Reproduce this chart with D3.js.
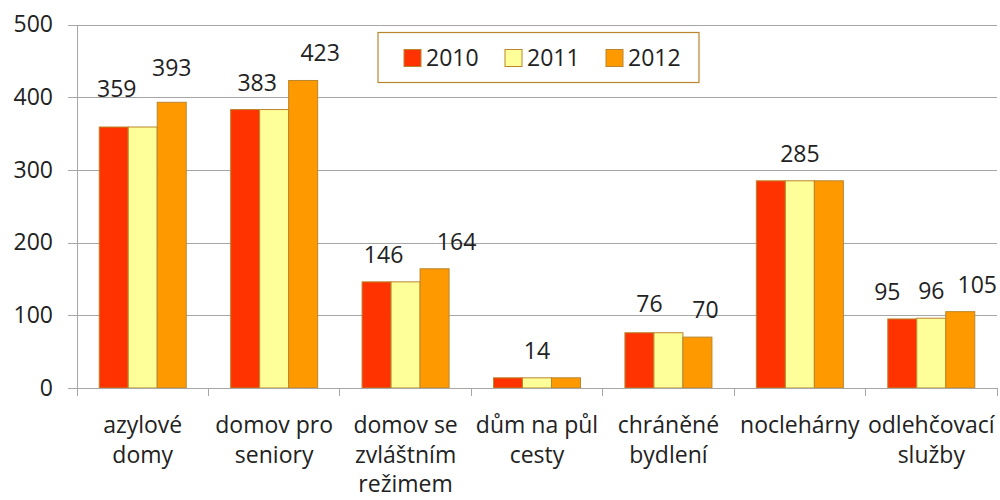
<!DOCTYPE html>
<html>
<head>
<meta charset="utf-8">
<script src="https://cdn.jsdelivr.net/npm/d3@7"></script>
<style>
    body { margin: 0; background: #fff; }
    svg { display: block; font-family: "Open Sans", sans-serif; }
</style>
</head>
<body>
<div id="chart"></div>
<script>
const categories = ['azylové domy', 'domov pro seniory', 'domov se zvláštním režimem',
    'dům na půl cesty', 'chráněné bydlení', 'noclehárny', 'odlehčovací služby'];
const categoryLines = [['azylové', 'domy'], ['domov pro', 'seniory'], ['domov se', 'zvláštním', 'režimem'],
    ['dům na půl', 'cesty'], ['chráněné', 'bydlení'], ['noclehárny'], ['odlehčovací', 'služby']];
const years = ['2010', '2011', '2012'];
const values2010 = [359, 383, 146, 14, 76, 285, 95];
const values2011 = [359, 383, 146, 14, 76, 285, 96];
const values2012 = [393, 423, 164, 14, 70, 285, 105];
const yTicks = [0, 100, 200, 300, 400, 500];
// which bar carries a visible data label: [year index, category index]
const shownLabels = [[0, 0], [2, 0], [0, 1], [2, 1], [0, 2], [2, 2], [1, 3],
    [0, 4], [2, 4], [1, 5], [0, 6], [1, 6], [2, 6]];

// label nudges (px) as placed by hand in the original
const labelNudge = [[3, -11], [0, -7], [12, 0], [17, 0], [7, 0], [22, 0], [0, 0],
    [10, -2], [8, 0], [0, 0], [-15, 0], [0, 0], [17, 0]];

const colors = {'2010': '#ff3300', '2011': '#ffff99', '2012': '#ff9900'};
const barStroke = '#b9862c';
const gridColor = '#a6a6a6';
const textColor = '#222';

const width = 1000, height = 500;
const plot = {left: 77, right: 997, top: 24.5, bottom: 388};

const series = [values2010, values2011, values2012];

const svg = d3.select('#chart').append('svg')
    .attr('width', width)
    .attr('height', height);

const x = d3.scaleBand()
    .domain(categories)
    .range([plot.left, plot.right])
    .paddingInner(0.338)
    .paddingOuter(0.169);

const x1 = d3.scaleBand()
    .domain(years)
    .range([0, x.bandwidth()]);

const y = d3.scaleLinear()
    .domain([0, 500])
    .range([plot.bottom, plot.top]);

// gridlines
svg.append('g')
    .classed('grid', true)
    .attr('transform', `translate(${plot.left},0)`)
    .call(d3.axisLeft(y).tickValues(yTicks.slice(1)).tickFormat('').tickSize(-(plot.right - plot.left)))
    .call(g => g.select('.domain').remove())
    .call(g => g.selectAll('line').attr('stroke', gridColor).attr('shape-rendering', 'crispEdges'));

// y axis
svg.append('g')
    .classed('y-axis', true)
    .attr('transform', `translate(${plot.left},0)`)
    .call(d3.axisLeft(y).tickValues(yTicks).tickSize(9).tickPadding(15))
    .call(g => g.select('.domain').attr('stroke', gridColor).attr('shape-rendering', 'crispEdges'))
    .call(g => g.selectAll('line').attr('stroke', gridColor).attr('shape-rendering', 'crispEdges'))
    .call(g => g.selectAll('text')
        .attr('fill', textColor)
        .attr('font-size', 23)
        .attr('font-family', '"Open Sans", sans-serif'));

// bars
const groups = svg.append('g')
    .selectAll('g')
    .data(categories)
    .join('g')
    .attr('transform', d => `translate(${x(d)},0)`);

groups.selectAll('rect')
    .data((c, i) => years.map((yr, s) => ({year: yr, value: series[s][i]})))
    .join('rect')
    .attr('x', d => x1(d.year))
    .attr('y', d => y(d.value))
    .attr('width', x1.bandwidth())
    .attr('height', d => y(0) - y(d.value))
    .attr('fill', d => colors[d.year])
    .attr('stroke', barStroke)
    .attr('stroke-width', 1);

// x axis line and ticks between categories
const step = x.step();
const boundaries = categories.map(c => x(c) - step * x.paddingInner() / 2)
    .concat([plot.right]);

const xAxis = svg.append('g').classed('x-axis', true);
xAxis.append('line')
    .attr('x1', plot.left).attr('x2', plot.right)
    .attr('y1', y(0)).attr('y2', y(0))
    .attr('stroke', gridColor)
    .attr('shape-rendering', 'crispEdges');
xAxis.selectAll('.tick')
    .data(boundaries)
    .join('line')
    .attr('x1', d => d).attr('x2', d => d)
    .attr('y1', y(0)).attr('y2', y(0) + 8)
    .attr('stroke', gridColor)
    .attr('shape-rendering', 'crispEdges');

xAxis.selectAll('text')
    .data(categories)
    .join('text')
    .attr('x', d => x(d) + x.bandwidth() / 2)
    .attr('y', 433)
    .attr('text-anchor', 'middle')
    .attr('font-size', 23)
    .attr('fill', textColor)
    .selectAll('tspan')
    .data((d, i) => categoryLines[i])
    .join('tspan')
    .attr('x', function () { return d3.select(this.parentNode).attr('x'); })
    .attr('dy', (d, i) => i === 0 ? 0 : 29.5)
    .text(d => d);

// data labels
svg.append('g')
    .selectAll('text')
    .data(shownLabels)
    .join('text')
    .attr('x', ([s, c], i) => x(categories[c]) + x1(years[s]) + x1.bandwidth() / 2 + labelNudge[i][0])
    .attr('y', ([s, c], i) => y(series[s][c]) - 19 + labelNudge[i][1])
    .attr('text-anchor', 'middle')
    .attr('font-size', 23)
    .attr('fill', textColor)
    .text(([s, c]) => series[s][c]);

// legend
const legend = svg.append('g').attr('transform', 'translate(378,32.5)');
legend.append('rect')
    .attr('width', 321)
    .attr('height', 50)
    .attr('fill', '#fff')
    .attr('stroke', barStroke)
    .attr('stroke-width', 1.2);

const items = legend.selectAll('g')
    .data(years)
    .join('g')
    .attr('transform', (d, i) => `translate(${26 + i * 101},17)`);
items.append('rect')
    .attr('width', 17)
    .attr('height', 17)
    .attr('fill', d => colors[d])
    .attr('stroke', barStroke);
items.append('text')
    .attr('x', 22)
    .attr('y', 16.5)
    .attr('font-size', 23)
    .attr('fill', textColor)
    .text(d => d);
</script>
</body>
</html>
